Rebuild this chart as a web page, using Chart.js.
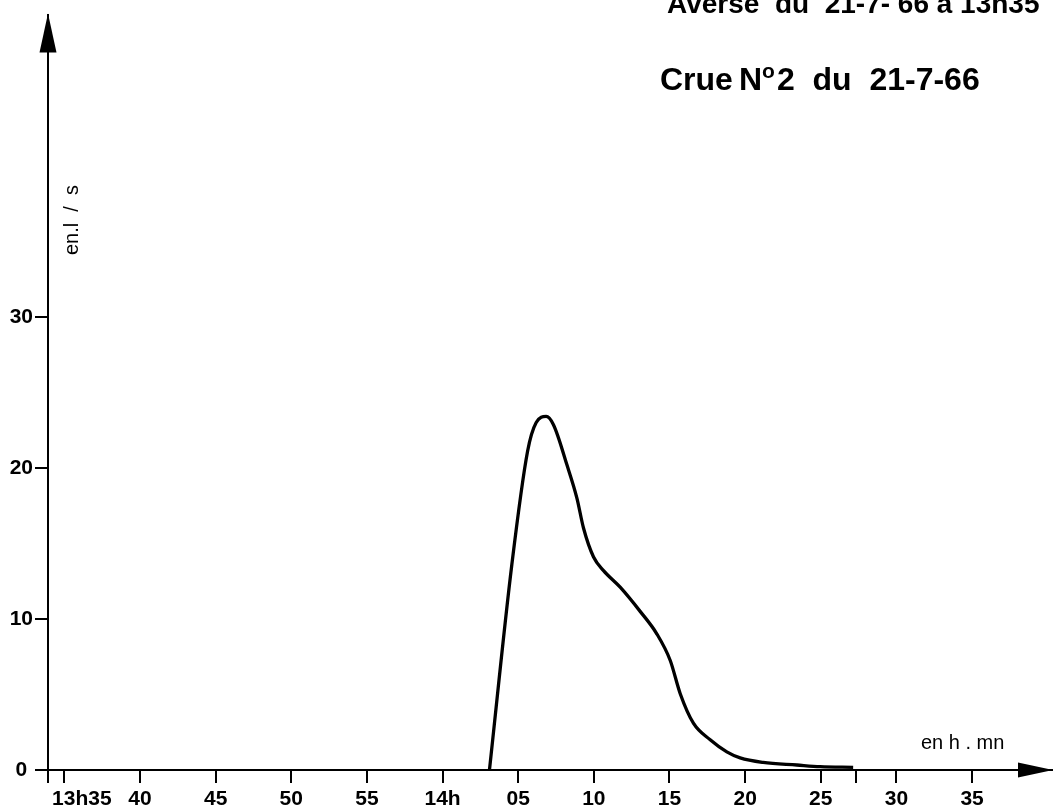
<!DOCTYPE html>
<html lang="fr">
<head>
    <meta charset="UTF-8">
    <title>Crue N°2 du 21-7-66</title>
    <script src="https://cdn.jsdelivr.net/npm/chart.js"></script>
    <style>
        body {
            margin: 0;
            background: #fff;
        }

        #crueChart {
            display: block;
        }
    </style>
</head>
<body>
    <canvas id="crueChart" width="1053" height="811"></canvas>

    <script>
        // minutes comptées depuis 13h35
        const tickMinutes = [0, 5, 10, 15, 20, 25, 30, 35, 40, 45, 50, 55, 60];
        const tickLabels = ['      13h35', '40', '45', '50', '55', '14h', '05', '10', '15', '20', '25', '30', '35'];
        const endMark = 52.3; // petit trait sans étiquette, fin de la crue

        const debitTicks = [0, 10, 20, 30];
        const debitLabels = ['0 ', '10', '20', '30'];

        // hydrogramme, débit en l/s
        const crueMinutes = [28.10, 29.58, 30.62, 31.19, 31.85, 32.33, 33.22, 33.88, 34.32, 34.98,
            35.64, 36.74, 38.06, 39.17, 40.05, 40.71, 41.58, 42.69, 43.79, 44.67, 46.19, 48.42, 49.96, 52.14];
        const crueDebit = [0, 13.6, 21.1, 23.0, 23.4, 22.85, 20.2, 18.0, 16.0, 14.1,
            13.2, 12.1, 10.5, 9.0, 7.25, 5.05, 3.1, 2.0, 1.2, 0.8, 0.5, 0.33, 0.22, 0.18];

        const fontName = "'Liberation Sans', Arial, sans-serif";

        const decorations = {
            id: 'decorations',
            afterDraw(chart) {
                const ctx = chart.ctx;
                const area = chart.chartArea;
                ctx.save();
                ctx.fillStyle = '#000';
                ctx.strokeStyle = '#000';

                // prolongement de l'axe vertical sous l'axe des temps
                ctx.lineWidth = 2;
                ctx.beginPath();
                ctx.moveTo(area.left, area.bottom);
                ctx.lineTo(area.left, area.bottom + 13);
                ctx.stroke();

                // flèche verticale
                ctx.beginPath();
                ctx.moveTo(area.left, area.top - 1);
                ctx.lineTo(area.left - 8.5, area.top + 38);
                ctx.lineTo(area.left + 8.5, area.top + 38);
                ctx.closePath();
                ctx.fill();

                // flèche horizontale
                ctx.beginPath();
                ctx.moveTo(area.right, area.bottom);
                ctx.lineTo(area.right - 35, area.bottom - 7.5);
                ctx.lineTo(area.right - 35, area.bottom + 7.5);
                ctx.closePath();
                ctx.fill();

                // unités
                ctx.font = '20px ' + fontName;
                ctx.textBaseline = 'middle';
                ctx.textAlign = 'center';
                ctx.save();
                ctx.translate(72, 220);
                ctx.rotate(-Math.PI / 2);
                ctx.fillText('en.l  /  s', 0, 0);
                ctx.restore();

                ctx.textAlign = 'left';
                ctx.fillText('en h . mn', 921, 743);

                // titres
                ctx.textBaseline = 'alphabetic';
                ctx.font = 'bold 28px ' + fontName;
                ctx.fillText('Averse  du  21-7- 66 à 13h35', 667, 13);

                ctx.font = 'bold 32px ' + fontName;
                const y = 90;
                ctx.fillText('Crue', 660, y);
                ctx.fillText('N', 739, y);
                let x = 739 + ctx.measureText('N').width;
                ctx.font = 'bold 21px ' + fontName;
                ctx.fillText('o', x, y - 12);
                x += ctx.measureText('o').width + 2;
                ctx.font = 'bold 32px ' + fontName;
                ctx.fillText('2  du  21-7-66', x, y);

                ctx.restore();
            }
        };

        new Chart(document.getElementById('crueChart'), {
            type: 'line',
            data: {
                datasets: [{
                    data: crueMinutes.map((m, i) => ({ x: m, y: crueDebit[i] })),
                    borderColor: '#000',
                    borderWidth: 3.3,
                    pointRadius: 0,
                    cubicInterpolationMode: 'monotone',
                    fill: false
                }]
            },
            options: {
                responsive: false,
                animation: false,
                layout: {
                    padding: { top: 12, left: 0, right: 0, bottom: 0 }
                },
                plugins: {
                    legend: { display: false },
                    tooltip: { enabled: false }
                },
                scales: {
                    x: {
                        type: 'linear',
                        min: -1.08,
                        max: 65.35,
                        afterBuildTicks: (scale) => {
                            scale.ticks = tickMinutes.map(v => ({ value: v }));
                            scale.ticks.push({ value: endMark });
                        },
                        afterFit: (scale) => { scale.height = 41; },
                        ticks: {
                            autoSkip: false,
                            maxRotation: 0,
                            padding: 4,
                            color: '#000',
                            font: { family: fontName, size: 21, weight: 'bold' },
                            callback: (value) => {
                                const i = tickMinutes.indexOf(value);
                                return i >= 0 ? tickLabels[i] : '';
                            }
                        },
                        grid: {
                            drawOnChartArea: false,
                            tickLength: 13,
                            color: '#000',
                            lineWidth: 2
                        },
                        border: { display: true, color: '#000', width: 2 }
                    },
                    y: {
                        min: 0,
                        max: 50,
                        afterBuildTicks: (scale) => {
                            scale.ticks = debitTicks.map(v => ({ value: v }));
                        },
                        afterFit: (scale) => { scale.width = 48; },
                        ticks: {
                            padding: 2,
                            color: '#000',
                            font: { family: fontName, size: 21, weight: 'bold' },
                            callback: (value) => debitLabels[debitTicks.indexOf(value)]
                        },
                        grid: {
                            drawOnChartArea: false,
                            tickLength: 13,
                            color: '#000',
                            lineWidth: 2
                        },
                        border: { display: true, color: '#000', width: 2 }
                    }
                }
            },
            plugins: [decorations]
        });
    </script>
</body>
</html>
